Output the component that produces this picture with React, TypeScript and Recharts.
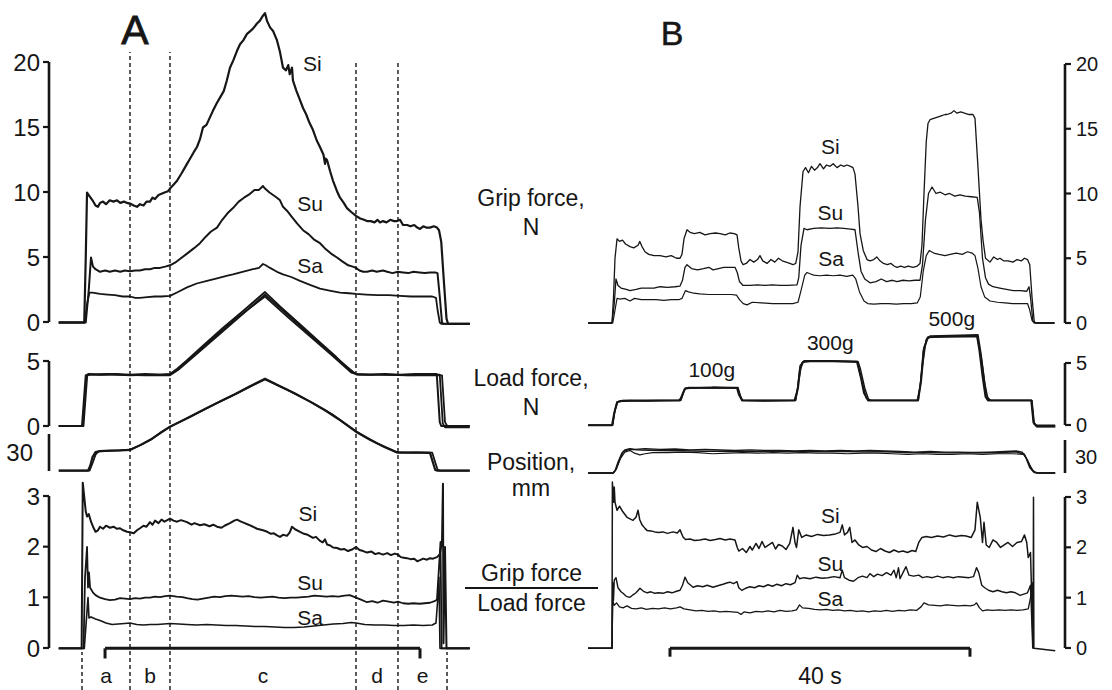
import React from "react";
import {
  LineChart,
  Line,
  XAxis,
  YAxis,
  ReferenceLine,
  ReferenceDot,
  ReferenceArea,
} from "recharts";

type Pt = [number, number];

const INK = "#161616";
const FONT = '"Liberation Sans", Arial, Helvetica, sans-serif';
const PX_PER_S = 7.5;

// ---------- A: load ramp, three surfaces (time in s) ----------
const A_GRIP_SI: Pt[] = [
  [0.5, 0], [3.9, 0], [4.1, 5], [4.27, 10.0], [4.5, 9.8], [5.0, 9.4], [5.4, 9.0], [5.73, 8.9],
  [6.0, 9.2], [6.4, 9.3], [6.8, 9.1], [7.3, 9.4], [7.8, 9.3], [8.27, 9.4], [8.7, 9.2], [9.2, 9.3],
  [9.6, 9.2], [10.0, 9.15], [10.5, 9.0], [10.93, 8.9], [11.33, 9.1], [11.8, 9.0], [12.2, 9.3],
  [12.67, 9.3], [13.0, 9.6], [13.33, 9.5], [13.8, 9.8], [14.2, 9.9], [14.6, 10.0], [15.07, 10.1],
  [15.33, 10.3], [15.8, 10.6], [16.27, 10.9], [16.8, 11.4], [17.2, 11.8], [17.6, 12.2], [18.0, 12.6],
  [18.5, 13.1], [18.93, 13.5], [19.33, 14.1], [19.73, 15.0], [20.2, 15.2], [20.67, 15.8], [21.07, 16.3],
  [21.6, 16.9], [22.0, 17.3], [22.5, 17.8], [22.9, 18.6], [23.33, 19.6], [23.8, 20.2], [24.27, 20.9],
  [24.67, 21.4], [25.1, 21.7], [25.6, 22.2], [26.0, 22.4], [26.4, 22.6], [26.93, 23.0], [27.3, 23.2],
  [27.73, 23.6], [28.0, 23.8], [28.27, 23.2], [28.67, 22.7], [29.1, 22.4], [29.6, 21.7], [30.0, 20.8],
  [30.4, 19.6], [30.8, 19.4], [31.1, 19.8], [31.3, 19.1], [31.6, 19.6], [31.73, 18.6], [32.2, 17.8],
  [32.67, 17.1], [33.07, 16.5], [33.5, 16.0], [33.9, 15.4], [34.4, 14.8], [34.9, 14.0], [35.33, 13.5],
  [35.8, 12.9], [36.0, 12.2], [36.1, 12.6], [36.27, 12.5], [36.7, 11.6], [37.07, 10.9], [37.6, 10.1],
  [38.0, 9.6], [38.5, 9.2], [38.93, 8.8], [39.5, 8.5], [40.13, 8.2], [40.7, 8.0], [41.2, 7.9],
  [41.6, 7.8], [42.1, 7.8], [42.6, 7.7], [43.0, 7.9], [43.33, 7.7], [43.73, 7.8], [44.2, 7.7],
  [44.7, 7.9], [45.2, 7.8], [45.6, 7.8], [46.0, 7.9], [46.4, 7.5], [46.93, 7.5], [47.4, 7.4],
  [47.9, 7.5], [48.3, 7.3], [48.67, 7.2], [49.1, 7.4], [49.5, 7.3], [50.0, 7.3], [50.5, 7.4],
  [50.93, 7.3], [51.2, 7.1], [51.5, 6.2], [51.87, 3.0], [52.2, 0.3], [52.4, -0.1], [55.3, -0.1],
];
const A_GRIP_SU: Pt[] = [
  [0.5, 0], [4.1, 0], [4.5, 2.5], [4.8, 5.0], [5.07, 4.3], [5.4, 4.1], [6.0, 3.9], [6.7, 4.0],
  [7.3, 3.9], [8.0, 4.0], [8.7, 3.9], [9.3, 4.0], [10.0, 3.95], [10.7, 4.0], [11.3, 4.0], [12.0, 4.1],
  [12.67, 4.1], [13.3, 4.2], [14.0, 4.2], [14.7, 4.3], [15.33, 4.4], [16.0, 4.6], [16.7, 4.9],
  [17.6, 5.3], [18.5, 5.7], [19.33, 6.1], [20.1, 6.6], [20.8, 7.0], [21.6, 7.3], [22.3, 7.9],
  [23.0, 8.4], [23.73, 8.8], [24.5, 9.3], [25.2, 9.6], [26.0, 9.9], [26.6, 10.2], [27.2, 10.2],
  [27.73, 10.5], [28.0, 10.3], [28.6, 10.0], [29.6, 9.6], [30.0, 9.4], [30.4, 8.9], [30.93, 8.6],
  [31.6, 8.1], [32.3, 7.6], [33.07, 7.1], [33.8, 6.8], [34.5, 6.4], [35.33, 6.1], [36.0, 5.7],
  [36.8, 5.3], [37.6, 5.0], [38.3, 4.7], [39.1, 4.4], [39.7, 4.3], [40.13, 4.2], [40.6, 4.0],
  [41.1, 3.9], [41.6, 3.9], [42.3, 4.0], [42.9, 3.9], [43.73, 4.0], [44.3, 3.9], [45.0, 3.8],
  [45.7, 3.9], [46.4, 3.85], [47.1, 3.8], [47.8, 3.9], [48.6, 3.85], [49.3, 3.8], [50.0, 3.85],
  [50.7, 3.85], [51.0, 3.8], [51.3, 2.0], [51.6, 0], [51.8, -0.1], [55.3, -0.1],
];
const A_GRIP_SA: Pt[] = [
  [0.5, 0], [3.95, 0], [4.3, 1.5], [4.6, 2.3], [5.0, 2.3], [6.0, 2.2], [7.0, 2.15], [8.0, 2.1],
  [9.0, 2.0], [10.0, 2.0], [10.7, 1.9], [11.33, 1.9], [12.3, 1.95], [13.3, 2.0], [14.2, 2.0],
  [15.33, 2.05], [16.4, 2.35], [17.6, 2.7], [18.9, 3.0], [20.27, 3.2], [21.6, 3.4], [23.0, 3.6],
  [23.73, 3.7], [25.0, 3.9], [26.4, 4.1], [27.2, 4.2], [27.73, 4.5], [28.1, 4.4], [28.67, 4.2],
  [29.6, 3.9], [30.4, 3.7], [31.5, 3.5], [32.67, 3.2], [34.0, 2.9], [35.33, 2.6], [36.6, 2.45],
  [38.0, 2.3], [39.2, 2.25], [40.13, 2.2], [41.5, 2.15], [43.0, 2.1], [44.5, 2.1], [46.0, 2.05],
  [47.5, 2.0], [49.0, 2.0], [50.3, 2.0], [50.8, 1.9], [51.0, 1.0], [51.3, 0], [51.5, -0.1], [55.3, -0.1],
];
const A_LOAD_1: Pt[] = [
  [0.5, 0], [3.6, 0], [4.1, 3.9], [4.5, 4.0], [6.0, 3.95], [8.0, 4.0], [10.0, 3.95], [12.0, 4.0],
  [14.0, 3.95], [15.33, 4.0], [16.3, 4.4], [17.5, 5.0], [20.0, 6.3], [22.5, 7.6], [25.0, 8.8],
  [28.0, 10.3], [30.0, 9.2], [32.5, 7.9], [35.0, 6.6], [37.5, 5.3], [39.3, 4.3], [40.13, 4.0],
  [42.0, 3.95], [44.0, 4.0], [46.0, 3.95], [48.0, 4.0], [50.9, 4.0], [51.3, 0.3], [51.5, 0], [55.3, 0],
];
const A_LOAD_2: Pt[] = [
  [0.5, 0], [3.8, 0], [4.3, 3.9], [4.6, 3.95], [7.0, 4.0], [10.0, 3.9], [13.0, 3.95], [15.33, 3.95],
  [16.5, 4.4], [18.0, 5.2], [21.0, 6.7], [24.0, 8.2], [28.0, 9.95], [31.0, 8.4], [34.0, 6.9],
  [37.0, 5.4], [39.5, 4.1], [40.5, 3.95], [43.0, 3.95], [47.0, 3.9], [51.3, 3.95], [51.7, 0.2],
  [52.0, -0.1], [55.3, -0.1],
];
const A_LOAD_3: Pt[] = [
  [0.5, 0], [3.7, 0], [4.2, 3.85], [4.6, 3.95], [8.0, 3.95], [12.0, 3.9], [15.33, 3.9], [16.4, 4.3],
  [19.0, 5.6], [23.0, 7.6], [28.0, 10.1], [31.5, 8.3], [35.0, 6.5], [38.0, 5.0], [40.2, 3.95],
  [44.0, 3.95], [48.0, 3.9], [51.6, 3.9], [52.0, 0.3], [52.3, 0], [55.3, 0],
];
const A_POS_1: Pt[] = [
  [0.5, 0], [4.4, 0], [4.7, 4], [5.0, 11], [5.4, 15], [6.0, 15.8], [7.3, 16.2], [8.7, 16.4],
  [10.0, 16.8], [11.3, 20.5], [12.7, 25], [14.0, 30.5], [15.33, 35.5], [17.6, 42.5], [20.0, 50],
  [22.0, 56], [24.0, 62], [26.0, 68.5], [28.0, 74.6], [30.0, 68.5], [32.0, 62.5], [34.0, 56],
  [36.0, 49], [38.0, 41], [40.13, 31.6], [42.0, 25], [44.0, 19], [45.6, 14.8], [47.0, 14.6],
  [48.5, 14.6], [50.0, 14.4], [50.7, 0.5], [51.0, 0], [55.3, 0],
];
const A_POS_2: Pt[] = [
  [0.5, 0], [4.6, 0], [5.0, 6], [5.4, 13], [5.8, 15.6], [7.0, 16.0], [8.5, 16.5], [10.0, 17.0],
  [11.5, 21], [13.0, 26], [15.33, 35.8], [18.0, 43.5], [21.0, 53], [24.5, 63.5], [28.0, 74.0],
  [31.0, 65.5], [34.5, 54.5], [37.0, 45.5], [40.13, 32.0], [43.0, 22], [45.73, 14.6], [48.0, 14.8],
  [50.3, 14.6], [51.0, 1], [51.3, 0], [55.3, 0],
];
const A_RATIO_SI: Pt[] = [
  [0.5, 0], [3.55, 0], [3.7, 3.27], [4.1, 2.7], [4.27, 2.6], [4.5, 2.65], [4.8, 2.5], [5.07, 2.4],
  [5.4, 2.3], [5.73, 2.33], [6.0, 2.4], [6.4, 2.36], [6.8, 2.42], [7.33, 2.38], [7.8, 2.4], [8.27, 2.36],
  [8.67, 2.37], [9.1, 2.33], [9.6, 2.3], [10.0, 2.29], [10.5, 2.27], [10.93, 2.33], [11.33, 2.37],
  [11.8, 2.42], [12.2, 2.4], [12.67, 2.49], [13.0, 2.44], [13.33, 2.52], [13.8, 2.47], [14.2, 2.54],
  [14.6, 2.5], [15.33, 2.56], [15.8, 2.52], [16.27, 2.5], [16.8, 2.53], [17.6, 2.49], [18.2, 2.44],
  [18.6, 2.47], [19.33, 2.43], [19.9, 2.45], [20.6, 2.41], [21.1, 2.44], [21.6, 2.4], [22.2, 2.38],
  [22.6, 2.42], [23.33, 2.47], [23.9, 2.52], [24.27, 2.54], [24.8, 2.5], [25.3, 2.47], [25.8, 2.44],
  [26.4, 2.4], [26.93, 2.36], [27.73, 2.33], [28.3, 2.3], [28.8, 2.26], [29.2, 2.27], [29.6, 2.23],
  [30.0, 2.2], [30.4, 2.24], [30.93, 2.22], [31.3, 2.29], [31.6, 2.4], [32.0, 2.35], [32.67, 2.3],
  [33.2, 2.26], [33.7, 2.24], [34.4, 2.18], [34.8, 2.2], [35.33, 2.12], [35.7, 2.09], [36.0, 2.15],
  [36.27, 2.05], [36.7, 2.03], [37.07, 1.99], [37.6, 1.98], [38.1, 1.95], [38.6, 1.96], [39.07, 1.92],
  [39.6, 1.95], [40.13, 2.0], [40.6, 1.94], [41.1, 1.92], [41.6, 1.89], [42.2, 1.91], [42.7, 1.86],
  [43.2, 1.88], [43.73, 1.85], [44.3, 1.88], [44.8, 1.84], [45.3, 1.87], [45.73, 1.85], [46.1, 1.8],
  [46.5, 1.79], [46.93, 1.78], [47.4, 1.76], [47.9, 1.77], [48.3, 1.72], [48.67, 1.74], [49.1, 1.77],
  [49.6, 1.75], [50.0, 1.78], [50.4, 1.77], [50.93, 1.8], [51.3, 1.85], [51.6, 2.1], [51.73, 3.25],
  [51.8, 0.1], [52.0, 2.0], [52.2, 0], [55.3, 0],
];
const A_RATIO_SU: Pt[] = [
  [0.5, 0], [3.8, 0], [4.0, 1.4], [4.27, 2.0], [4.4, 1.2], [4.53, 1.5], [4.67, 1.2], [5.07, 1.1],
  [5.4, 1.05], [6.0, 1.0], [6.67, 0.97], [7.33, 0.95], [8.0, 0.96], [8.67, 0.99], [9.33, 0.98],
  [10.0, 0.97], [10.7, 0.99], [11.33, 0.98], [12.0, 1.0], [12.67, 1.0], [13.33, 1.02], [14.0, 1.01],
  [14.7, 1.03], [15.33, 1.04], [16.2, 1.02], [17.0, 1.01], [17.6, 0.99], [18.3, 0.97], [19.0, 0.96],
  [19.73, 0.98], [20.5, 1.0], [21.2, 1.02], [22.0, 1.01], [22.7, 1.03], [23.5, 1.04], [24.27, 1.03],
  [25.0, 1.02], [25.8, 1.03], [26.6, 1.01], [27.4, 1.0], [28.2, 1.01], [29.0, 1.02], [29.8, 1.0],
  [30.6, 0.99], [31.4, 1.0], [32.2, 1.0], [33.0, 1.01], [33.8, 1.02], [34.6, 1.04], [35.4, 1.03],
  [36.2, 1.02], [37.0, 1.03], [37.8, 1.02], [38.6, 1.04], [39.3, 1.05], [40.13, 1.0], [40.8, 0.96],
  [41.6, 0.91], [42.3, 0.93], [43.0, 0.9], [43.73, 0.94], [44.5, 0.92], [45.2, 0.9], [45.73, 0.92],
  [46.4, 0.89], [47.1, 0.88], [47.8, 0.89], [48.6, 0.88], [49.3, 0.89], [50.0, 0.9], [50.6, 0.93],
  [50.93, 0.96], [51.2, 1.6], [51.4, 2.1], [51.55, 0], [55.3, 0],
];
const A_RATIO_SA: Pt[] = [
  [0.5, 0], [3.9, 0], [4.2, 0.6], [4.4, 1.0], [4.53, 0.6], [4.8, 0.62], [5.4, 0.58], [6.0, 0.55],
  [6.8, 0.5], [7.6, 0.47], [8.4, 0.48], [9.3, 0.49], [10.0, 0.5], [10.9, 0.47], [11.8, 0.46],
  [12.7, 0.47], [13.6, 0.47], [14.5, 0.48], [15.33, 0.49], [16.5, 0.48], [17.6, 0.47], [18.9, 0.46],
  [20.2, 0.47], [21.5, 0.46], [22.8, 0.45], [24.1, 0.45], [25.4, 0.44], [26.7, 0.43], [28.0, 0.43],
  [29.3, 0.42], [30.6, 0.41], [31.9, 0.41], [33.2, 0.42], [34.5, 0.44], [35.8, 0.46], [37.1, 0.48],
  [38.4, 0.49], [39.5, 0.51], [40.13, 0.5], [41.3, 0.47], [42.6, 0.46], [43.9, 0.46], [45.2, 0.45],
  [46.5, 0.45], [47.8, 0.46], [49.1, 0.45], [50.3, 0.46], [50.8, 0.5], [51.0, 0.9], [51.2, 1.4],
  [51.33, 0], [55.3, 0],
];
const A_PHASES = ["a", "b", "c", "d", "e"];
const A_PHASE_BOUNDS = [3.6, 10.0, 15.33, 40.13, 45.73, 52.27];
const A_SCALE_BAR: Pt = [6.67, 48.67];

// ---------- B: three weights, three surfaces (time in s) ----------
const B_GRIP_SI: Pt[] = [
  [0.4, 0], [3.6, 0], [3.8, 2.0], [4.0, 5.0], [4.27, 6.5], [4.6, 6.3], [5.0, 6.4], [5.4, 6.1],
  [6.0, 5.9], [6.5, 5.8], [7.07, 6.0], [7.3, 6.3], [7.6, 5.9], [8.0, 5.5], [8.5, 5.3], [9.2, 5.2],
  [10.0, 5.2], [10.8, 5.1], [11.5, 5.2], [12.2, 5.0], [12.67, 5.0], [12.93, 5.3], [13.2, 6.5],
  [13.6, 7.2], [14.0, 7.0], [14.6, 6.9], [15.3, 7.0], [16.0, 6.8], [16.7, 6.9], [17.4, 6.95],
  [18.0, 6.9], [18.7, 6.8], [19.3, 6.95], [19.9, 6.9], [20.27, 6.8], [20.5, 5.8], [20.8, 4.8],
  [21.07, 4.5], [21.5, 4.6], [22.0, 4.9], [22.5, 4.7], [23.0, 4.9], [23.33, 5.2], [23.7, 4.8],
  [24.27, 4.6], [24.8, 4.9], [25.3, 4.7], [25.8, 5.0], [26.3, 4.8], [26.8, 4.7], [27.3, 4.6],
  [27.73, 4.5], [28.1, 4.6], [28.4, 5.5], [28.67, 9.0], [29.07, 11.7], [29.4, 12.0], [29.8, 11.6],
  [30.2, 12.1], [30.6, 11.8], [31.0, 12.0], [31.33, 12.3], [31.8, 11.9], [32.2, 12.2], [32.67, 12.1],
  [33.1, 12.3], [33.6, 12.0], [34.1, 12.2], [34.5, 12.1], [34.93, 12.2], [35.4, 12.1], [35.73, 12.0],
  [36.0, 11.5], [36.4, 9.0], [36.67, 6.9], [37.1, 5.6], [37.6, 4.9], [38.0, 4.8], [38.5, 4.9],
  [38.9, 5.1], [39.33, 4.8], [39.8, 4.6], [40.3, 4.5], [40.8, 4.6], [41.2, 4.4], [41.6, 4.3],
  [42.1, 4.4], [42.6, 4.3], [43.1, 4.4], [43.73, 4.3], [44.3, 4.4], [44.67, 4.6], [44.93, 6.0],
  [45.2, 10.0], [45.5, 14.0], [45.73, 15.4], [46.0, 15.7], [46.5, 15.8], [47.0, 15.9], [47.5, 16.0],
  [48.0, 16.1], [48.27, 16.1], [48.8, 16.2], [49.2, 16.4], [49.6, 16.2], [50.1, 16.3], [50.6, 16.2],
  [51.2, 16.1], [51.73, 16.1], [52.0, 15.8], [52.4, 12.0], [52.8, 8.0], [53.07, 6.4], [53.4, 5.0],
  [54.0, 4.7], [54.5, 5.1], [55.0, 4.9], [55.33, 5.0], [55.8, 4.8], [56.4, 4.8], [57.07, 4.7],
  [57.6, 4.9], [58.2, 4.8], [58.6, 5.0], [59.0, 4.9], [59.3, 4.5], [59.6, 2.0], [59.9, 0.1],
  [60.2, 0], [62.6, 0],
];
const B_GRIP_SU: Pt[] = [
  [0.4, 0], [3.6, 0], [3.9, 1.5], [4.13, 3.4], [4.4, 2.9], [4.8, 2.7], [5.5, 2.6], [6.0, 2.5],
  [6.8, 2.6], [7.5, 2.7], [8.27, 2.7], [9.2, 2.7], [10.0, 2.8], [11.0, 2.75], [12.0, 2.8],
  [12.67, 2.85], [13.0, 3.3], [13.33, 4.3], [13.6, 4.5], [14.2, 4.2], [15.0, 4.1], [15.8, 4.2],
  [16.5, 4.3], [17.07, 4.1], [17.8, 4.2], [18.5, 4.3], [19.3, 4.3], [20.0, 4.3], [20.3, 3.9],
  [20.6, 3.2], [21.07, 2.9], [22.0, 2.9], [23.0, 2.95], [24.0, 2.9], [25.0, 2.95], [26.0, 2.9],
  [27.0, 2.9], [28.27, 2.95], [28.5, 3.5], [28.8, 6.0], [29.2, 7.3], [29.6, 7.2], [30.5, 7.3],
  [31.5, 7.35], [32.67, 7.3], [33.6, 7.35], [34.5, 7.3], [35.4, 7.25], [36.0, 7.2], [36.4, 5.5],
  [36.8, 4.0], [37.3, 3.4], [38.0, 3.1], [38.8, 3.2], [39.5, 3.4], [40.2, 3.2], [41.0, 3.3],
  [41.6, 3.2], [42.4, 3.3], [43.2, 3.25], [44.0, 3.3], [44.67, 3.3], [45.0, 4.5], [45.4, 8.0],
  [45.8, 10.0], [46.27, 10.5], [46.8, 10.0], [47.4, 10.1], [48.0, 9.9], [48.6, 10.0], [49.3, 9.8],
  [50.0, 9.9], [50.7, 9.8], [51.5, 9.75], [52.3, 9.7], [52.6, 8.5], [53.0, 5.0], [53.4, 3.5],
  [53.8, 3.0], [54.4, 2.8], [55.3, 2.7], [56.2, 2.6], [57.1, 2.5], [58.0, 2.5], [58.9, 2.45],
  [59.2, 2.8], [59.4, 2.0], [59.7, 0.2], [60.0, 0], [62.6, 0],
];
const B_GRIP_SA: Pt[] = [
  [0.4, 0], [3.7, 0], [4.0, 1.0], [4.27, 1.9], [4.6, 1.85], [5.3, 1.9], [6.0, 1.7], [6.6, 1.9],
  [7.5, 1.8], [8.5, 1.8], [9.5, 1.8], [10.5, 1.75], [11.5, 1.8], [12.5, 1.8], [12.93, 1.9],
  [13.4, 2.5], [13.8, 2.4], [14.5, 2.3], [15.3, 2.25], [16.5, 2.2], [17.5, 2.2], [18.5, 2.2],
  [19.5, 2.2], [20.2, 2.15], [20.6, 1.8], [21.1, 1.5], [21.6, 1.4], [22.3, 1.6], [23.5, 1.55],
  [25.0, 1.5], [26.5, 1.5], [27.7, 1.5], [28.4, 1.6], [28.8, 2.5], [29.3, 3.7], [29.6, 3.9],
  [30.0, 3.8], [30.5, 3.7], [31.3, 3.65], [32.2, 3.7], [33.1, 3.65], [34.0, 3.7], [34.9, 3.6],
  [35.7, 3.7], [36.1, 3.4], [36.6, 2.4], [37.2, 1.7], [37.7, 1.5], [38.5, 1.45], [39.5, 1.5],
  [40.5, 1.5], [41.5, 1.45], [42.5, 1.5], [43.5, 1.5], [44.3, 1.55], [44.7, 2.0], [45.1, 4.0],
  [45.5, 5.2], [45.9, 5.6], [46.5, 5.4], [47.2, 5.3], [48.0, 5.2], [48.7, 5.3], [49.5, 5.4],
  [50.3, 5.3], [51.0, 5.5], [51.6, 5.4], [52.0, 5.2], [52.4, 4.2], [52.8, 2.8], [53.3, 2.0],
  [54.0, 1.7], [55.0, 1.6], [56.0, 1.55], [57.0, 1.5], [58.0, 1.5], [59.0, 1.5], [59.3, 1.0],
  [59.6, 0.2], [59.9, 0], [62.6, 0],
];
const B_LOAD_1: Pt[] = [
  [0.4, 0], [3.6, 0], [3.9, 1.0], [4.27, 1.85], [4.8, 1.95], [6, 2.0], [8, 2.0], [10, 2.0],
  [12.67, 2.0], [13.07, 2.6], [13.33, 2.95], [14, 3.0], [17, 3.05], [20.27, 3.0], [20.5, 2.5],
  [20.93, 2.0], [24, 2.0], [28.0, 2.0], [28.4, 3.0], [28.67, 4.5], [29.07, 5.1], [30, 5.15],
  [33, 5.15], [36.27, 5.1], [36.8, 3.8], [37.2, 2.6], [37.73, 2.0], [41, 2.0], [44.4, 2.0],
  [44.8, 3.5], [45.2, 6.2], [45.73, 7.1], [48, 7.15], [51, 7.2], [52.27, 7.2], [52.6, 6.0],
  [53.0, 4.0], [53.4, 2.3], [53.73, 2.0], [56, 2.0], [59.5, 2.0], [59.8, 0.2], [60.2, -0.1], [62.7, -0.1],
];
const B_LOAD_2: Pt[] = [
  [0.4, 0], [3.7, 0], [4.0, 1.2], [4.4, 1.9], [5, 2.0], [8, 1.95], [12.5, 2.0], [12.93, 2.3],
  [13.3, 2.9], [13.8, 3.05], [17, 3.0], [20.4, 3.05], [20.7, 2.4], [21.0, 2.0], [24, 1.95],
  [27.9, 2.0], [28.3, 2.8], [28.67, 4.8], [29.2, 5.2], [33, 5.2], [36.4, 5.15], [36.7, 4.6],
  [37.3, 3.0], [37.8, 2.1], [38.2, 2.0], [41, 2.0], [44.3, 2.0], [44.7, 3.2], [45.1, 6.0],
  [45.6, 7.0], [46, 7.2], [50, 7.25], [52.4, 7.3], [52.8, 5.8], [53.3, 3.4], [53.7, 2.2],
  [54.1, 2.0], [57, 2.0], [59.6, 2.0], [59.9, 0.2], [60.3, -0.1], [62.7, -0.1],
];
const B_LOAD_3: Pt[] = [
  [0.4, 0], [3.65, 0], [3.95, 1.1], [4.3, 1.9], [6, 1.95], [10, 2.0], [12.8, 2.0], [13.2, 2.8],
  [13.5, 3.0], [17, 3.0], [20.35, 3.0], [20.8, 2.2], [21.0, 2.0], [28.1, 2.0], [28.5, 3.6],
  [28.9, 5.0], [29.3, 5.15], [36.3, 5.15], [36.9, 3.6], [37.5, 2.2], [37.9, 2.0], [44.45, 2.0],
  [45.0, 4.8], [45.5, 6.9], [46, 7.1], [52.3, 7.15], [52.9, 5.2], [53.5, 2.5], [53.9, 2.0],
  [59.55, 2.0], [59.85, 0.1], [60.2, 0], [62.7, 0],
];
const B_POS_1: Pt[] = [
  [0.4, 0], [3.7, 0], [4.0, 2], [4.4, 10], [4.9, 18], [5.3, 21], [6.0, 22], [6.7, 21.5], [8, 22],
  [10, 21.5], [12, 21.8], [14, 21], [16, 21.5], [18, 21], [20, 20.5], [22, 21], [24, 20.5],
  [26, 20.5], [28, 20], [30, 20.5], [32, 20], [34, 20.5], [36, 20], [38, 20.5], [40, 20], [42, 19.5],
  [44, 19], [46, 19.5], [48, 19], [50, 19], [52, 18.5], [54, 19], [56, 19.5], [57.5, 20], [58.3, 19],
  [58.8, 14], [59.3, 5], [59.8, 1], [60.5, 0], [62.7, 0],
];
const B_POS_2: Pt[] = [
  [0.4, 0], [3.8, 0], [4.2, 4], [4.7, 13], [5.3, 19], [6.0, 20.5], [6.6, 18], [7.3, 16.5],
  [8.0, 17.5], [9, 18.5], [11, 18.5], [13, 19], [15, 18.5], [17, 17.5], [19, 18], [21, 18.5],
  [23, 18], [25, 18.5], [27, 18], [29, 18.5], [31, 18], [33, 18], [35, 17.5], [37, 18], [39, 18],
  [41, 17.5], [43, 17], [45, 17.5], [47, 17], [49, 17], [51, 17.5], [53, 17], [55, 17.5], [57, 17.5],
  [58.5, 17], [59.0, 12], [59.6, 3], [60.2, 0], [62.7, 0],
];
const B_POS_3: Pt[] = [
  [0.4, 0], [3.75, 0], [4.1, 3], [4.6, 12], [5.1, 19.5], [5.8, 21.5], [7.5, 20.8], [10, 20.5],
  [13, 20.2], [16, 19.8], [19, 20], [22, 19.6], [25, 19.9], [28, 19.5], [31, 19.4], [34, 19.6],
  [37, 19.2], [40, 19.3], [43, 18.6], [46, 18.5], [49, 18.3], [52, 18.6], [55, 18.4], [57.5, 19.2],
  [58.6, 17], [59.2, 8], [59.9, 0.5], [60.4, 0], [62.7, 0],
];
const B_RATIO_SI: Pt[] = [
  [0.4, 0], [3.6, 0], [3.65, 3.3], [3.8, 2.9], [3.9, 3.2], [4.0, 2.9], [4.27, 2.74], [4.6, 2.82],
  [5.0, 2.72], [5.6, 2.6], [6.0, 2.57], [6.4, 2.54], [6.8, 2.6], [7.07, 2.74], [7.3, 2.55], [7.6, 2.45],
  [8.0, 2.38], [8.27, 2.34], [8.8, 2.33], [9.3, 2.31], [9.8, 2.3], [10.4, 2.31], [11.0, 2.28],
  [11.73, 2.31], [12.3, 2.29], [12.67, 2.35], [13.07, 2.21], [13.4, 2.16], [14, 2.17], [14.6, 2.14],
  [15.3, 2.15], [16, 2.17], [16.7, 2.14], [17.4, 2.16], [18.0, 2.18], [18.7, 2.15], [19.33, 2.17],
  [20.0, 2.15], [20.3, 2.0], [20.5, 1.93], [21.0, 1.98], [21.5, 1.9], [22.0, 2.02], [22.3, 1.95],
  [22.8, 2.08], [23.2, 1.98], [23.6, 2.12], [24.0, 2.0], [24.5, 2.05], [25.0, 2.1], [25.4, 1.97],
  [25.8, 2.06], [26.3, 2.03], [26.8, 1.96], [27.3, 2.08], [27.73, 2.4], [28.0, 2.1], [28.2, 2.0],
  [28.5, 2.35], [28.9, 2.2], [29.5, 2.25], [30.2, 2.22], [31.0, 2.26], [31.8, 2.24], [32.6, 2.25],
  [33.4, 2.27], [34.0, 2.3], [34.3, 2.45], [34.6, 2.25], [35.0, 2.3], [35.3, 2.4], [35.6, 2.1],
  [36.0, 2.15], [36.5, 2.05], [37.0, 2.0], [37.6, 2.02], [38.2, 1.95], [38.8, 1.92], [39.4, 1.98],
  [40.0, 1.93], [40.6, 1.9], [41.2, 1.95], [41.8, 1.91], [42.4, 1.93], [43.0, 1.9], [43.6, 1.94],
  [44.1, 1.92], [44.5, 2.1], [44.93, 2.2], [45.5, 2.22], [46.2, 2.2], [47.0, 2.23], [47.8, 2.21],
  [48.6, 2.25], [49.4, 2.22], [50.2, 2.24], [50.8, 2.23], [51.5, 2.2], [52.0, 2.35], [52.3, 2.9],
  [52.7, 2.6], [53.0, 2.1], [53.2, 2.5], [53.5, 2.05], [53.9, 2.0], [54.4, 2.15], [54.9, 2.1],
  [55.4, 2.0], [55.9, 2.05], [56.4, 2.1], [57.0, 2.02], [57.6, 2.1], [58.2, 2.12], [58.6, 2.25],
  [58.9, 2.1], [59.1, 1.8], [59.4, 1.9], [59.75, 0], [59.8, 3.0], [59.85, 0], [62.7, -0.05],
];
const B_RATIO_SU: Pt[] = [
  [0.4, 0], [3.6, 0], [3.7, 1.3], [3.8, 0.95], [3.9, 1.35], [4.13, 1.4], [4.4, 1.2], [4.8, 1.12],
  [5.07, 1.09], [5.5, 1.03], [6.0, 1.01], [6.4, 1.06], [6.8, 1.1], [7.33, 1.19], [7.8, 1.13],
  [8.3, 1.1], [8.8, 1.12], [9.3, 1.09], [9.8, 1.1], [10.4, 1.09], [11.0, 1.12], [11.6, 1.1],
  [12.2, 1.13], [12.67, 1.15], [13.0, 1.25], [13.33, 1.41], [13.7, 1.3], [14.4, 1.21], [15.0, 1.24],
  [15.7, 1.22], [16.3, 1.25], [17.07, 1.21], [17.7, 1.24], [18.4, 1.27], [19.0, 1.3], [19.33, 1.31],
  [19.8, 1.28], [20.27, 1.32], [20.5, 1.2], [20.9, 1.15], [21.4, 1.19], [22.0, 1.22], [22.6, 1.2],
  [23.2, 1.24], [23.8, 1.22], [24.4, 1.26], [25.0, 1.23], [25.6, 1.27], [26.2, 1.24], [26.8, 1.28],
  [27.4, 1.26], [28.0, 1.3], [28.3, 1.45], [28.6, 1.38], [29.2, 1.4], [30.0, 1.38], [30.8, 1.41],
  [31.6, 1.39], [32.4, 1.4], [33.2, 1.42], [34.0, 1.4], [34.3, 1.55], [34.6, 1.4], [35.2, 1.35],
  [35.8, 1.33], [36.4, 1.4], [37.0, 1.43], [37.6, 1.4], [38.0, 1.48], [38.5, 1.42], [39.0, 1.47],
  [39.6, 1.44], [40.2, 1.5], [40.8, 1.45], [41.2, 1.55], [41.5, 1.4], [41.8, 1.6], [42.0, 1.38],
  [42.4, 1.5], [42.8, 1.62], [43.2, 1.45], [43.8, 1.43], [44.5, 1.45], [45.0, 1.4], [45.6, 1.42],
  [46.3, 1.4], [47.0, 1.43], [47.7, 1.4], [48.4, 1.42], [49.1, 1.4], [49.8, 1.42], [50.5, 1.41],
  [51.2, 1.4], [51.8, 1.42], [52.2, 1.6], [52.5, 1.5], [52.9, 1.25], [53.3, 1.2], [53.8, 1.15],
  [54.4, 1.12], [55.0, 1.15], [55.6, 1.12], [56.2, 1.1], [56.8, 1.12], [57.4, 1.1], [58.0, 1.05],
  [58.6, 1.08], [59.0, 1.1], [59.4, 1.25], [59.7, 0],
];
const B_RATIO_SA: Pt[] = [
  [0.4, 0], [3.6, 0], [3.7, 0.95], [3.9, 0.85], [4.2, 0.9], [4.6, 0.82], [5.07, 0.8], [5.6, 0.84],
  [6.2, 0.79], [6.8, 0.78], [7.5, 0.8], [8.2, 0.77], [9.0, 0.79], [9.8, 0.78], [10.6, 0.8],
  [11.4, 0.78], [12.2, 0.8], [12.67, 0.82], [13.2, 0.78], [14.0, 0.76], [14.8, 0.74], [15.6, 0.75],
  [16.4, 0.73], [17.2, 0.74], [18.0, 0.72], [18.8, 0.73], [19.6, 0.72], [20.4, 0.71], [20.8, 0.67],
  [21.2, 0.72], [22.0, 0.7], [22.8, 0.73], [23.6, 0.72], [24.4, 0.74], [25.2, 0.72], [26.0, 0.75],
  [26.8, 0.73], [27.6, 0.74], [28.2, 0.76], [28.6, 0.86], [29.0, 0.8], [29.8, 0.79], [30.6, 0.77],
  [31.4, 0.76], [32.2, 0.77], [33.0, 0.75], [33.8, 0.76], [34.6, 0.74], [35.4, 0.75], [36.2, 0.73],
  [37.0, 0.74], [37.8, 0.72], [38.6, 0.74], [39.4, 0.73], [40.2, 0.75], [41.0, 0.73], [41.8, 0.75],
  [42.6, 0.74], [43.4, 0.76], [44.2, 0.75], [44.8, 0.82], [45.2, 0.9], [45.8, 0.86], [46.6, 0.85],
  [47.4, 0.84], [48.2, 0.86], [49.0, 0.85], [49.8, 0.84], [50.6, 0.85], [51.4, 0.84], [51.9, 0.86],
  [52.2, 0.9], [52.6, 0.8], [53.0, 0.74], [53.6, 0.76], [54.4, 0.75], [55.2, 0.76], [56.0, 0.75],
  [56.8, 0.76], [57.6, 0.75], [58.4, 0.76], [59.1, 0.78], [59.4, 1.0], [59.65, 1.3], [59.75, 0],
];
const B_WEIGHTS = ["100g", "300g", "500g"];
const B_WEIGHT_STEPS: Pt[] = [[16.9, 3.0], [32.7, 5.15], [48.9, 7.15]];
const B_TIME_BAR: Pt = [11.33, 51.33];

const SURFACES = ["Si", "Su", "Sa"];
const GRIP_TICKS = [0, 5, 10, 15, 20];
const LOAD_TICKS = [0, 5];
const RATIO_TICKS = [0, 1, 2, 3];
const POSITION_BAR_MM = 30;

// where the Si / Su / Sa names sit, in each plot's own units
const A_GRIP_NAMES: Pt[] = [[34.3, 19.9], [34.0, 9.15], [34.0, 4.4]];
const A_RATIO_NAMES: Pt[] = [[33.7, 2.66], [34.0, 1.3], [34.0, 0.61]];
const B_GRIP_NAMES: Pt[] = [[32.7, 13.6], [32.7, 8.5], [32.8, 5.0]];
const B_RATIO_NAMES: Pt[] = [[32.7, 2.64], [32.7, 1.69], [32.7, 0.99]];

const toRows = (pts: Pt[]) => pts.map(([t, v]) => ({ t, v }));
const NO_MARGIN = { top: 0, right: 0, bottom: 0, left: 0 };

interface Trace {
  pts: Pt[];
  w: number;
}

function Traces(props: {
  left: number;
  span: number;
  zeroY: number;
  ppu: number;
  lo: number;
  hi: number;
  traces: Trace[];
  children?: React.ReactNode;
}) {
  const { left, span, zeroY, ppu, lo, hi, traces, children } = props;
  const top = zeroY - hi * ppu;
  const height = (hi - lo) * ppu;
  return (
    <div style={{ position: "absolute", left, top }}>
      <LineChart width={span * PX_PER_S} height={height} margin={NO_MARGIN}>
        <XAxis type="number" dataKey="t" domain={[0, span]} hide />
        <YAxis type="number" dataKey="v" domain={[lo, hi]} hide />
        {traces.map((tr, i) => (
          <Line
            key={i}
            data={toRows(tr.pts)}
            dataKey="v"
            type="linear"
            dot={false}
            activeDot={false}
            stroke={INK}
            strokeWidth={tr.w}
            strokeLinejoin="round"
            isAnimationActive={false}
          />
        ))}
        {children}
      </LineChart>
    </div>
  );
}

function names(spots: Pt[], size: number) {
  return spots.map(([t, v], i) => (
    <ReferenceDot
      key={SURFACES[i]}
      x={t}
      y={v}
      r={0}
      fill="none"
      stroke="none"
      label={{ value: SURFACES[i], position: "center", fill: INK, fontSize: size, fontFamily: FONT }}
    />
  ));
}

function ScaleAxis(props: {
  side: "left" | "right";
  axisX: number;
  zeroY: number;
  ppu: number;
  max: number;
  ticks?: number[];
  barLabel?: string;
  fontSize: number;
  labelGap?: number;
}) {
  const { side, axisX, zeroY, ppu, max, ticks, barLabel, fontSize, labelGap } = props;
  const W = 60;
  const pad = 20;
  const h = max * ppu;
  const left = side === "left" ? axisX - W : axisX - 1;
  const rows = (ticks ?? [0, max]).map((v) => ({ v }));
  return (
    <div style={{ position: "absolute", left, top: zeroY - h - pad }}>
      <LineChart data={rows} width={W + 1} height={h + 2 * pad} margin={{ top: pad, right: 0, bottom: pad, left: 0 }}>
        <XAxis type="category" hide />
        <YAxis
          orientation={side}
          width={W}
          type="number"
          dataKey="v"
          domain={[0, max]}
          ticks={ticks}
          interval={0}
          tick={ticks ? { fill: INK, fontSize, fontFamily: FONT } : false}
          tickLine={ticks ? { stroke: INK, strokeWidth: 2.2 } : false}
          tickSize={6}
          tickMargin={side === "left" ? 3 : 5}
          axisLine={{ stroke: INK, strokeWidth: 2.6 }}
          label={
            barLabel
              ? {
                  value: barLabel,
                  position: side === "left" ? "insideRight" : "insideLeft",
                  offset: labelGap,
                  fill: INK,
                  fontSize,
                  fontFamily: FONT,
                }
              : undefined
          }
        />
        <Line dataKey="v" stroke="none" dot={false} activeDot={false} isAnimationActive={false} />
      </LineChart>
    </div>
  );
}

function Guides(props: {
  left: number;
  span: number;
  top: number;
  bottom: number;
  times: number[];
  phases?: boolean;
}) {
  const { left, span, top, bottom, times, phases } = props;
  const rows = times.map((t) => ({ t, v: 0.5 }));
  return (
    <div style={{ position: "absolute", left, top }}>
      <LineChart data={rows} width={span * PX_PER_S} height={bottom - top} margin={NO_MARGIN}>
        <XAxis type="number" dataKey="t" domain={[0, span]} hide />
        <YAxis type="number" dataKey="v" domain={[0, 1]} hide />
        <Line dataKey="v" stroke="none" dot={false} activeDot={false} isAnimationActive={false} />
        {times.map((t) => (
          <ReferenceLine key={t} x={t} stroke={INK} strokeWidth={1.4} strokeDasharray="4 3" />
        ))}
        {phases &&
          A_PHASES.map((p, i) => (
            <ReferenceArea
              key={p}
              x1={A_PHASE_BOUNDS[i]}
              x2={A_PHASE_BOUNDS[i + 1]}
              fill="none"
              stroke="none"
              label={{ value: p, position: "insideBottom", offset: 7, fill: INK, fontSize: 21, fontFamily: FONT }}
            />
          ))}
      </LineChart>
    </div>
  );
}

function bracket(span: Pt, depth: number, width: number, text?: string) {
  const [a, b] = span;
  return [
    <ReferenceLine
      key="bar"
      segment={[{ x: a, y: 0 }, { x: b, y: 0 }]}
      stroke={INK}
      strokeWidth={width}
      label={text ? { value: text, position: "bottom", offset: 20, fill: INK, fontSize: 23, fontFamily: FONT } : undefined}
    />,
    <ReferenceLine key="l" segment={[{ x: a, y: 0 }, { x: a, y: -depth }]} stroke={INK} strokeWidth={width} />,
    <ReferenceLine key="r" segment={[{ x: b, y: 0 }, { x: b, y: -depth }]} stroke={INK} strokeWidth={width} />,
  ];
}

const midText: React.CSSProperties = {
  position: "absolute",
  left: 451,
  width: 160,
  textAlign: "center",
  fontSize: 23,
  color: INK,
};

const A_X = 55;
const A_SPAN = 55.5;
const B_X = 585;
const B_SPAN = 63;

export default function App() {
  return (
    <div
      style={{
        position: "absolute",
        left: 0,
        top: 0,
        width: 1112,
        height: 690,
        background: "#fff",
        fontFamily: FONT,
        overflow: "hidden",
      }}
    >
      <style>{`.recharts-surface{overflow:visible}`}</style>

      <div style={{ position: "absolute", left: 105, top: 10, width: 60, textAlign: "center", fontSize: 41, lineHeight: "40px", color: INK, WebkitTextStroke: `0.8px ${INK}` }}>A</div>
      <div style={{ position: "absolute", left: 642, top: 16, width: 60, textAlign: "center", fontSize: 34, lineHeight: "34px", color: INK, WebkitTextStroke: `0.5px ${INK}` }}>B</div>

      {/* ---- A ---- */}
      <ScaleAxis side="left" axisX={49} zeroY={322} ppu={13} max={20} ticks={GRIP_TICKS} fontSize={24} />
      <ScaleAxis side="left" axisX={49} zeroY={426} ppu={13} max={5} ticks={LOAD_TICKS} fontSize={24} />
      <ScaleAxis side="left" axisX={49} zeroY={471} ppu={37 / 30} max={POSITION_BAR_MM} barLabel="30" fontSize={24} labelGap={16} />
      <ScaleAxis side="left" axisX={49} zeroY={648} ppu={50.67} max={3} ticks={RATIO_TICKS} fontSize={24} />

      <Traces left={A_X} span={A_SPAN} zeroY={322} ppu={13} lo={-0.5} hi={24.5}
        traces={[{ pts: A_GRIP_SI, w: 2.2 }, { pts: A_GRIP_SU, w: 2 }, { pts: A_GRIP_SA, w: 1.8 }]}>
        {names(A_GRIP_NAMES, 21)}
      </Traces>
      <Traces left={A_X} span={A_SPAN} zeroY={426} ppu={13} lo={-0.5} hi={11}
        traces={[{ pts: A_LOAD_1, w: 2 }, { pts: A_LOAD_2, w: 1.8 }, { pts: A_LOAD_3, w: 1.8 }]} />
      <Traces left={A_X} span={A_SPAN} zeroY={471} ppu={37 / 30} lo={-2} hi={80}
        traces={[{ pts: A_POS_1, w: 2.2 }, { pts: A_POS_2, w: 1.8 }]} />
      <Traces left={A_X} span={A_SPAN} zeroY={648} ppu={50.67} lo={-0.3} hi={3.5}
        traces={[{ pts: A_RATIO_SI, w: 2 }, { pts: A_RATIO_SU, w: 1.8 }, { pts: A_RATIO_SA, w: 1.6 }]}>
        {names(A_RATIO_NAMES, 21)}
        {bracket(A_SCALE_BAR, 0.2, 3)}
      </Traces>

      <Guides left={A_X} span={A_SPAN} top={52} bottom={690} times={[A_PHASE_BOUNDS[1], A_PHASE_BOUNDS[2]]} />
      <Guides left={A_X} span={A_SPAN} top={61} bottom={690} times={[A_PHASE_BOUNDS[3], A_PHASE_BOUNDS[4]]} />
      <Guides left={A_X} span={A_SPAN} top={652} bottom={690} times={[A_PHASE_BOUNDS[0], A_PHASE_BOUNDS[5]]} phases />

      {/* ---- middle names ---- */}
      <div style={{ ...midText, top: 184, lineHeight: "29px" }}>Grip force,<br />N</div>
      <div style={{ ...midText, top: 364, lineHeight: "29px" }}>Load force,<br />N</div>
      <div style={{ ...midText, top: 449, lineHeight: "26px" }}>Position,<br />mm</div>
      <div style={{ ...midText, left: 465, width: 133, top: 559, lineHeight: "28px" }}>
        <div style={{ borderBottom: `2px solid ${INK}` }}>Grip force</div>
        <div>Load force</div>
      </div>

      {/* ---- B ---- */}
      <ScaleAxis side="right" axisX={1065} zeroY={323} ppu={12.95} max={20} ticks={GRIP_TICKS} fontSize={20} />
      <ScaleAxis side="right" axisX={1065} zeroY={425} ppu={12.4} max={5} ticks={LOAD_TICKS} fontSize={20} />
      <ScaleAxis side="right" axisX={1065} zeroY={473} ppu={1.1} max={POSITION_BAR_MM} barLabel="30" fontSize={20} labelGap={10} />
      <ScaleAxis side="right" axisX={1065} zeroY={648} ppu={50.33} max={3} ticks={RATIO_TICKS} fontSize={20} />

      <Traces left={B_X} span={B_SPAN} zeroY={323} ppu={12.95} lo={-0.5} hi={20}
        traces={[{ pts: B_GRIP_SI, w: 1.3 }, { pts: B_GRIP_SU, w: 1.3 }, { pts: B_GRIP_SA, w: 1.2 }]}>
        {names(B_GRIP_NAMES, 21)}
      </Traces>
      <Traces left={B_X} span={B_SPAN} zeroY={425} ppu={12.4} lo={-0.5} hi={8}
        traces={[{ pts: B_LOAD_1, w: 2 }, { pts: B_LOAD_2, w: 1.4 }, { pts: B_LOAD_3, w: 1.4 }]}>
        {B_WEIGHT_STEPS.map(([t, v], i) => (
          <ReferenceDot
            key={B_WEIGHTS[i]}
            x={t}
            y={v}
            r={0}
            fill="none"
            stroke="none"
            label={{ value: B_WEIGHTS[i], position: "top", offset: 11, fill: INK, fontSize: 21, fontFamily: FONT }}
          />
        ))}
      </Traces>
      <Traces left={B_X} span={B_SPAN} zeroY={473} ppu={1.1} lo={-2} hi={30}
        traces={[{ pts: B_POS_1, w: 1.4 }, { pts: B_POS_2, w: 1.2 }, { pts: B_POS_3, w: 1.4 }]} />
      <Traces left={B_X} span={B_SPAN} zeroY={648} ppu={50.33} lo={-0.3} hi={3.5}
        traces={[{ pts: B_RATIO_SI, w: 1.5 }, { pts: B_RATIO_SU, w: 1.4 }, { pts: B_RATIO_SA, w: 1.3 }]}>
        {names(B_RATIO_NAMES, 21)}
        {bracket(B_TIME_BAR, 0.17, 3, "40 s")}
      </Traces>
    </div>
  );
}
